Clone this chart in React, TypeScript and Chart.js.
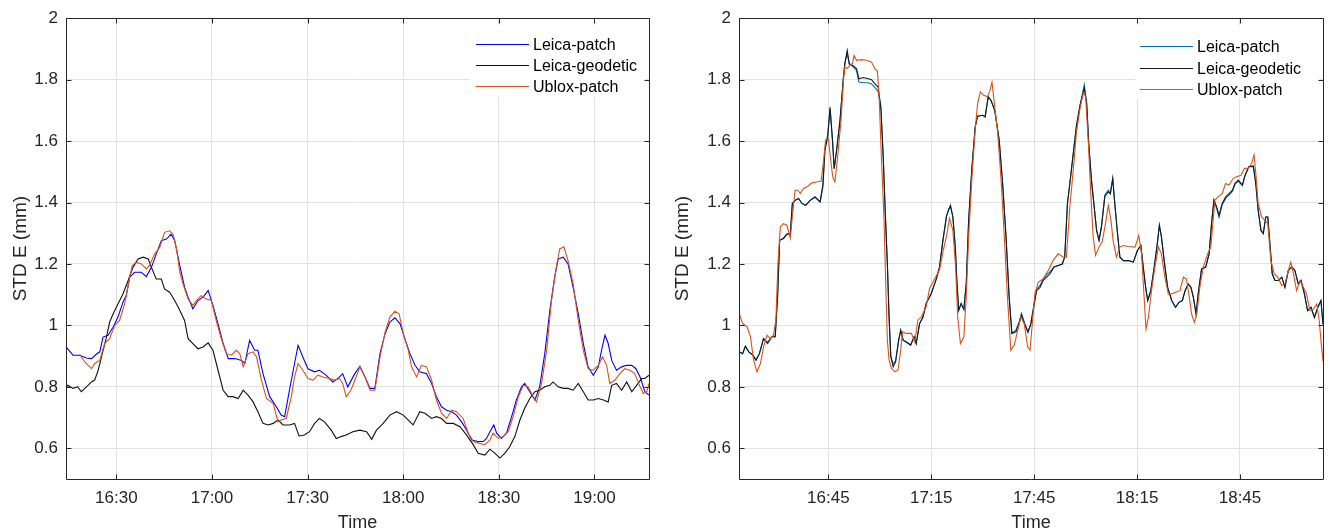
import React, { useEffect, useRef } from "react";
import { Chart, registerables } from "chart.js";

Chart.register(...registerables);

type Pt = [number, number];

// ---------- shared ----------
const SERIES_NAMES = ["Leica-patch", "Leica-geodetic", "Ublox-patch"];
const Y_TICKS = [0.6, 0.8, 1, 1.2, 1.4, 1.6, 1.8, 2];
const Y_TICK_LABELS = ["0.6", "0.8", "1", "1.2", "1.4", "1.6", "1.8", "2"];
const Y_MIN = 0.5;
const Y_MAX = 2;
const Y_TITLE = "STD E (mm)";
const X_TITLE = "Time";

// ---------- left panel (x = minutes after 16:00) ----------
const LEFT_X_TICKS = [30, 60, 90, 120, 150, 180];
const LEFT_X_LABELS = ["16:30", "17:00", "17:30", "18:00", "18:30", "19:00"];
const LEFT_X_MIN = 14.2;
const LEFT_X_MAX = 197.1;
const LEFT_COLORS = ["#0000ff", "#111111", "#d95319"];

const LEFT_LEICA_PATCH: Pt[] = [
  [14.2, 0.93], [16.4, 0.903], [18.5, 0.903], [20.6, 0.894], [22.2, 0.892], [23.7, 0.906], [24.8, 0.914],
  [25.8, 0.962], [27.4, 0.968], [29.0, 0.995], [30.5, 1.027], [32.1, 1.076], [33.1, 1.097], [34.2, 1.157],
  [35.7, 1.173], [37.8, 1.173], [39.4, 1.159], [41.0, 1.189], [42.5, 1.232], [44.1, 1.276], [45.7, 1.281],
  [47.2, 1.297], [48.3, 1.276], [49.9, 1.195], [51.4, 1.124], [52.5, 1.092], [54.0, 1.054], [55.6, 1.081],
  [57.2, 1.092], [58.8, 1.114], [60.3, 1.065], [61.9, 1.005], [63.5, 0.941], [65.1, 0.892], [67.2, 0.892],
  [69.3, 0.886], [70.3, 0.876], [71.8, 0.951], [73.4, 0.919], [74.4, 0.919], [76.0, 0.843], [78.1, 0.768],
  [80.2, 0.735], [81.7, 0.708], [82.8, 0.703], [84.3, 0.789], [85.9, 0.876], [87.0, 0.935], [88.5, 0.897],
  [90.1, 0.859], [92.2, 0.849], [93.7, 0.854], [95.8, 0.838], [97.9, 0.816], [99.5, 0.827], [101.0, 0.843],
  [102.6, 0.8], [104.8, 0.843], [106.4, 0.867], [108.0, 0.832], [109.6, 0.795], [111.1, 0.795], [112.7, 0.908],
  [114.3, 0.973], [115.8, 1.011], [117.4, 1.025], [119.0, 1.005], [120.5, 0.957], [122.1, 0.908], [123.7, 0.87],
  [125.2, 0.849], [127.3, 0.843], [128.9, 0.811], [130.4, 0.768], [132.0, 0.735], [133.6, 0.724], [135.2, 0.719],
  [136.7, 0.708], [138.3, 0.686], [139.9, 0.659], [141.5, 0.627], [143.5, 0.622], [145.1, 0.622], [146.1, 0.632],
  [147.2, 0.654], [148.4, 0.676], [149.3, 0.649], [150.8, 0.632], [152.4, 0.649], [154.0, 0.703], [155.5, 0.757],
  [157.1, 0.8], [158.1, 0.811], [159.7, 0.784], [161.3, 0.757], [162.8, 0.8], [164.4, 0.908], [166.0, 1.049],
  [167.5, 1.157], [168.6, 1.216], [170.2, 1.222], [171.7, 1.2], [173.3, 1.124], [174.9, 1.038], [176.5, 0.941],
  [178.0, 0.865], [179.6, 0.838], [181.2, 0.865], [182.2, 0.919], [183.3, 0.968], [184.3, 0.941], [185.4, 0.886],
  [186.9, 0.854], [188.5, 0.865], [190.1, 0.87], [191.7, 0.87], [193.0, 0.859], [194.3, 0.832], [195.8, 0.784],
  [197.1, 0.773],
];

const LEFT_LEICA_GEODETIC: Pt[] = [
  [14.2, 0.795], [14.8, 0.805], [16.4, 0.795], [17.9, 0.8], [19.0, 0.784], [20.6, 0.8], [22.2, 0.816],
  [23.2, 0.822], [24.3, 0.854], [25.3, 0.897], [26.9, 0.962], [27.9, 1.011], [29.0, 1.038], [30.5, 1.07],
  [32.1, 1.103], [33.7, 1.146], [35.2, 1.189], [36.8, 1.216], [38.4, 1.222], [40.0, 1.216], [41.0, 1.189],
  [42.5, 1.151], [44.1, 1.151], [45.1, 1.119], [46.7, 1.108], [48.3, 1.081], [49.9, 1.049], [51.4, 1.016],
  [52.5, 0.957], [54.0, 0.941], [55.6, 0.924], [57.2, 0.93], [58.8, 0.943], [60.3, 0.919], [61.9, 0.854],
  [63.5, 0.789], [65.1, 0.768], [66.6, 0.768], [68.2, 0.762], [69.8, 0.789], [71.3, 0.773], [72.9, 0.751],
  [74.4, 0.719], [76.0, 0.681], [77.6, 0.676], [79.2, 0.681], [80.7, 0.692], [82.3, 0.676], [84.3, 0.676],
  [85.9, 0.681], [87.3, 0.64], [89.0, 0.643], [90.6, 0.654], [92.2, 0.681], [93.7, 0.697], [95.3, 0.686],
  [97.4, 0.659], [99.0, 0.632], [100.5, 0.638], [102.1, 0.643], [104.2, 0.654], [106.4, 0.659], [108.5, 0.654],
  [110.1, 0.629], [111.6, 0.659], [113.7, 0.681], [115.8, 0.708], [117.9, 0.719], [120.0, 0.708], [121.6, 0.692],
  [123.1, 0.676], [125.2, 0.719], [126.8, 0.714], [128.9, 0.697], [130.4, 0.703], [132.0, 0.697], [133.6, 0.681],
  [135.7, 0.681], [137.8, 0.67], [139.9, 0.643], [142.0, 0.611], [143.5, 0.584], [145.6, 0.578], [147.2, 0.597],
  [148.7, 0.584], [150.3, 0.568], [151.9, 0.584], [153.4, 0.605], [155.0, 0.638], [156.6, 0.692], [158.1, 0.73],
  [159.7, 0.762], [161.3, 0.784], [162.8, 0.789], [164.4, 0.8], [166.0, 0.805], [167.0, 0.816], [168.6, 0.8],
  [170.2, 0.795], [171.7, 0.795], [173.3, 0.789], [174.9, 0.811], [176.5, 0.784], [178.0, 0.757], [179.6, 0.757],
  [181.2, 0.762], [182.8, 0.757], [184.3, 0.751], [185.4, 0.805], [186.9, 0.811], [188.5, 0.789], [190.1, 0.816],
  [191.7, 0.784], [193.2, 0.805], [194.8, 0.827], [195.8, 0.827], [197.1, 0.838],
];

const LEFT_UBLOX_PATCH: Pt[] = [
  [18.5, 0.906], [20.1, 0.881], [22.2, 0.859], [23.2, 0.876], [24.8, 0.886], [26.3, 0.941], [27.9, 0.957],
  [29.5, 1.0], [31.0, 1.016], [32.6, 1.07], [34.2, 1.157], [35.0, 1.195], [36.3, 1.205], [37.8, 1.2],
  [39.4, 1.184], [40.4, 1.195], [42.0, 1.232], [43.6, 1.254], [45.1, 1.303], [46.7, 1.308], [47.8, 1.297],
  [48.8, 1.254], [49.9, 1.173], [50.9, 1.135], [52.5, 1.086], [54.0, 1.065], [55.6, 1.086], [56.6, 1.097],
  [58.2, 1.086], [59.8, 1.081], [61.3, 1.016], [62.9, 0.957], [64.5, 0.908], [66.1, 0.903], [67.6, 0.919],
  [68.7, 0.908], [69.8, 0.865], [71.3, 0.908], [72.9, 0.914], [74.0, 0.897], [75.5, 0.822], [77.1, 0.762],
  [79.2, 0.746], [80.7, 0.686], [81.7, 0.692], [83.3, 0.697], [84.9, 0.768], [85.9, 0.832], [87.0, 0.876],
  [88.5, 0.854], [90.1, 0.827], [91.7, 0.822], [93.2, 0.838], [94.8, 0.832], [96.9, 0.827], [98.5, 0.822],
  [100.0, 0.827], [101.0, 0.811], [102.1, 0.768], [103.6, 0.789], [105.2, 0.832], [106.4, 0.865], [108.0, 0.832],
  [109.6, 0.789], [111.1, 0.789], [112.7, 0.897], [114.3, 0.978], [115.8, 1.027], [117.4, 1.046], [118.7, 1.038],
  [120.0, 0.973], [121.6, 0.919], [122.6, 0.865], [124.2, 0.832], [125.7, 0.87], [127.3, 0.865], [128.9, 0.822],
  [130.4, 0.757], [132.0, 0.714], [133.6, 0.697], [135.2, 0.724], [136.7, 0.719], [138.8, 0.697], [140.4, 0.649],
  [142.0, 0.622], [144.1, 0.616], [145.6, 0.611], [147.2, 0.627], [148.2, 0.649], [149.8, 0.632], [151.4, 0.638],
  [152.9, 0.654], [154.5, 0.703], [156.1, 0.768], [157.7, 0.805], [159.2, 0.8], [160.8, 0.768], [161.8, 0.751],
  [163.4, 0.811], [165.0, 0.919], [166.5, 1.081], [168.1, 1.195], [169.1, 1.249], [170.4, 1.256], [171.7, 1.211],
  [173.3, 1.135], [174.9, 1.016], [176.5, 0.919], [178.0, 0.859], [179.6, 0.854], [181.2, 0.87], [182.5, 0.897],
  [183.8, 0.87], [184.8, 0.811], [186.4, 0.822], [188.0, 0.843], [189.5, 0.859], [191.1, 0.854], [192.6, 0.843],
  [194.3, 0.8], [195.3, 0.778], [196.4, 0.784], [197.1, 0.811],
];

// ---------- right panel (x = minutes after 16:00) ----------
const RIGHT_X_TICKS = [45, 75, 105, 135, 165];
const RIGHT_X_LABELS = ["16:45", "17:15", "17:45", "18:15", "18:45"];
const RIGHT_X_MIN = 18.95;
const RIGHT_X_MAX = 189.2;
const RIGHT_COLORS = ["#0072bd", "#141820", "#d95319"];

const RIGHT_LEICA_PATCH: Pt[] = [
  [19.0, 0.914], [20.0, 0.908], [20.8, 0.932], [21.8, 0.914], [23.0, 0.903], [23.9, 0.887], [24.9, 0.908],
  [26.1, 0.957], [27.3, 0.945], [28.5, 0.963], [29.5, 0.963], [30.2, 1.093], [30.8, 1.277], [31.9, 1.283],
  [32.9, 1.297], [33.9, 1.297], [34.5, 1.397], [35.3, 1.407], [36.3, 1.413], [37.3, 1.397], [38.4, 1.391],
  [39.7, 1.407], [41.1, 1.418], [42.6, 1.402], [43.4, 1.46], [44.0, 1.575], [44.8, 1.62], [45.5, 1.712],
  [46.2, 1.603], [46.7, 1.51], [47.4, 1.57], [48.4, 1.668], [49.4, 1.809], [49.8, 1.852], [50.5, 1.885],
  [51.1, 1.85], [52.0, 1.845], [53.2, 1.83], [53.9, 1.792], [55.2, 1.79], [56.6, 1.79], [57.6, 1.786],
  [58.5, 1.775], [59.5, 1.762], [60.3, 1.711], [61.0, 1.548], [61.6, 1.364], [62.2, 1.201], [62.7, 1.028],
  [63.2, 0.9], [63.9, 0.875], [64.6, 0.885], [65.5, 0.952], [66.1, 0.984], [66.8, 0.952], [67.7, 0.946],
  [69.0, 0.936], [70.0, 0.963], [70.6, 0.941], [71.6, 1.006], [72.6, 1.028], [73.5, 1.071], [75.0, 1.104],
  [76.5, 1.152], [77.4, 1.19], [78.4, 1.277], [79.4, 1.353], [80.0, 1.375], [80.6, 1.392], [81.3, 1.353],
  [82.0, 1.256], [82.5, 1.136], [83.0, 1.049], [83.7, 1.071], [84.5, 1.052], [85.2, 1.136], [85.9, 1.342],
  [86.8, 1.505], [87.8, 1.646], [88.5, 1.681], [90.0, 1.684], [90.7, 1.679], [91.6, 1.744], [92.4, 1.733],
  [93.5, 1.7], [94.8, 1.603], [95.8, 1.462], [96.8, 1.288], [97.7, 1.093], [98.5, 0.974], [99.7, 0.985],
  [100.6, 1.012], [101.3, 1.04], [102.3, 1.005], [103.2, 0.98], [104.0, 1.004], [104.7, 1.052], [105.7, 1.118],
  [106.7, 1.13], [107.6, 1.15], [108.6, 1.165], [109.6, 1.175], [110.8, 1.19], [112.0, 1.195], [113.2, 1.2],
  [113.9, 1.222], [114.7, 1.397], [115.4, 1.462], [116.4, 1.56], [117.3, 1.647], [118.3, 1.713], [119.0, 1.75],
  [119.6, 1.784], [120.3, 1.724], [120.9, 1.593], [121.7, 1.473], [122.5, 1.386], [123.2, 1.309], [123.9, 1.277],
  [124.6, 1.32], [125.6, 1.425], [126.6, 1.44], [127.2, 1.429], [127.9, 1.478], [128.5, 1.397], [129.3, 1.299],
  [130.0, 1.222], [131.0, 1.211], [132.4, 1.211], [133.9, 1.206], [135.1, 1.244], [136.1, 1.26], [136.8, 1.19],
  [137.5, 1.124], [138.1, 1.081], [139.0, 1.113], [140.0, 1.19], [140.9, 1.266], [141.5, 1.326], [142.1, 1.288],
  [142.9, 1.211], [143.9, 1.124], [145.1, 1.081], [146.2, 1.059], [147.2, 1.075], [148.2, 1.081], [149.0, 1.113],
  [149.9, 1.135], [150.7, 1.124], [151.4, 1.092], [152.2, 1.037], [152.8, 1.102], [153.8, 1.184], [155.0, 1.19],
  [156.0, 1.233], [156.7, 1.331], [157.4, 1.408], [158.2, 1.38], [158.9, 1.352], [159.8, 1.392], [160.9, 1.414],
  [161.8, 1.424], [162.8, 1.436], [163.5, 1.458], [164.5, 1.47], [165.7, 1.455], [166.5, 1.489], [167.6, 1.517],
  [168.9, 1.52], [169.6, 1.462], [170.3, 1.375], [171.1, 1.31], [171.8, 1.299], [172.5, 1.353], [173.1, 1.353],
  [173.8, 1.255], [174.4, 1.168], [175.2, 1.146], [176.2, 1.146], [177.2, 1.157], [178.1, 1.124], [179.1, 1.179],
  [180.1, 1.19], [181.0, 1.179], [182.0, 1.135], [182.8, 1.146], [183.8, 1.102], [184.7, 1.048], [185.7, 1.059],
  [186.7, 1.026], [187.7, 1.059], [188.6, 1.081], [189.2, 1.004],
];

const RIGHT_LEICA_GEODETIC: Pt[] = [
  [19.0, 0.914], [20.0, 0.908], [20.8, 0.932], [21.8, 0.914], [23.0, 0.903], [23.9, 0.887], [24.9, 0.908],
  [26.1, 0.957], [27.3, 0.941], [28.5, 0.963], [29.5, 0.963], [30.2, 1.093], [30.8, 1.277], [31.9, 1.283],
  [32.9, 1.297], [33.9, 1.297], [34.5, 1.397], [35.3, 1.407], [36.3, 1.413], [37.3, 1.397], [38.4, 1.391],
  [39.7, 1.407], [41.1, 1.418], [42.6, 1.402], [43.4, 1.451], [44.0, 1.57], [44.8, 1.613], [45.5, 1.706],
  [46.2, 1.603], [46.7, 1.51], [47.4, 1.57], [48.4, 1.668], [49.4, 1.809], [49.8, 1.852], [50.5, 1.895],
  [51.1, 1.852], [52.0, 1.847], [53.2, 1.836], [53.9, 1.803], [55.2, 1.807], [56.6, 1.803], [57.6, 1.8],
  [58.5, 1.787], [59.5, 1.776], [60.3, 1.711], [61.0, 1.548], [61.6, 1.364], [62.2, 1.201], [62.7, 1.028],
  [63.2, 0.898], [63.9, 0.865], [64.6, 0.881], [65.5, 0.952], [66.1, 0.984], [66.8, 0.952], [67.7, 0.946],
  [69.0, 0.936], [70.0, 0.963], [70.6, 0.941], [71.6, 1.006], [72.6, 1.028], [73.5, 1.071], [75.0, 1.104],
  [76.5, 1.152], [77.4, 1.19], [78.4, 1.277], [79.4, 1.353], [80.0, 1.375], [80.6, 1.388], [81.3, 1.353],
  [82.0, 1.256], [82.5, 1.136], [83.0, 1.049], [83.7, 1.071], [84.5, 1.052], [85.2, 1.136], [85.9, 1.342],
  [86.8, 1.505], [87.8, 1.646], [88.5, 1.681], [90.0, 1.684], [90.7, 1.679], [91.6, 1.744], [92.4, 1.733],
  [93.5, 1.7], [94.8, 1.603], [95.8, 1.462], [96.8, 1.288], [97.7, 1.093], [98.5, 0.974], [99.7, 0.979],
  [100.6, 1.006], [101.3, 1.033], [102.3, 1.001], [103.2, 0.977], [104.0, 1.004], [104.7, 1.048], [105.7, 1.113],
  [106.7, 1.124], [107.6, 1.146], [108.6, 1.157], [109.6, 1.168], [110.8, 1.19], [112.0, 1.195], [113.2, 1.2],
  [113.9, 1.222], [114.7, 1.397], [115.4, 1.462], [116.4, 1.56], [117.3, 1.647], [118.3, 1.713], [119.0, 1.746],
  [119.6, 1.773], [120.3, 1.724], [120.9, 1.593], [121.7, 1.473], [122.5, 1.386], [123.2, 1.309], [123.9, 1.277],
  [124.6, 1.32], [125.6, 1.419], [126.6, 1.435], [127.2, 1.429], [127.9, 1.478], [128.5, 1.397], [129.3, 1.299],
  [130.0, 1.222], [131.0, 1.211], [132.4, 1.211], [133.9, 1.206], [135.1, 1.244], [136.1, 1.26], [136.8, 1.19],
  [137.5, 1.124], [138.1, 1.081], [139.0, 1.113], [140.0, 1.19], [140.9, 1.266], [141.5, 1.326], [142.1, 1.288],
  [142.9, 1.211], [143.9, 1.124], [145.1, 1.081], [146.2, 1.059], [147.2, 1.075], [148.2, 1.081], [149.0, 1.113],
  [149.9, 1.135], [150.7, 1.124], [151.4, 1.092], [152.2, 1.037], [152.8, 1.102], [153.8, 1.184], [155.0, 1.19],
  [156.0, 1.233], [156.7, 1.331], [157.4, 1.408], [158.2, 1.386], [158.9, 1.359], [159.8, 1.397], [160.9, 1.419],
  [161.8, 1.429], [162.8, 1.44], [163.5, 1.462], [164.5, 1.473], [165.7, 1.457], [166.5, 1.489], [167.6, 1.517],
  [168.9, 1.517], [169.6, 1.462], [170.3, 1.375], [171.1, 1.31], [171.8, 1.299], [172.5, 1.353], [173.1, 1.353],
  [173.8, 1.255], [174.4, 1.168], [175.2, 1.146], [176.2, 1.146], [177.2, 1.157], [178.1, 1.124], [179.1, 1.179],
  [180.1, 1.19], [181.0, 1.179], [182.0, 1.135], [182.8, 1.146], [183.8, 1.102], [184.7, 1.048], [185.7, 1.059],
  [186.7, 1.026], [187.7, 1.059], [188.6, 1.081], [189.2, 1.004],
];

const RIGHT_UBLOX_PATCH: Pt[] = [
  [19.0, 1.039], [20.0, 1.006], [21.3, 0.995], [22.3, 0.963], [23.2, 0.887], [24.2, 0.849], [25.2, 0.876],
  [26.1, 0.93], [27.1, 0.968], [28.1, 0.957], [29.0, 0.968], [29.7, 1.017], [30.3, 1.201], [31.0, 1.321],
  [31.9, 1.331], [32.9, 1.326], [33.9, 1.283], [34.5, 1.353], [35.3, 1.44], [36.1, 1.44], [36.8, 1.429],
  [37.7, 1.445], [39.0, 1.453], [40.2, 1.464], [41.6, 1.467], [42.9, 1.47], [43.5, 1.527], [44.2, 1.603],
  [45.0, 1.608], [45.8, 1.527], [46.3, 1.483], [46.9, 1.467], [47.7, 1.548], [48.7, 1.668], [49.4, 1.798],
  [49.8, 1.841], [50.5, 1.836], [51.3, 1.847], [52.0, 1.852], [52.5, 1.879], [53.2, 1.863], [54.7, 1.865],
  [56.1, 1.863], [57.6, 1.857], [58.5, 1.836], [59.3, 1.828], [59.8, 1.744], [60.5, 1.538], [61.2, 1.353],
  [61.7, 1.147], [62.2, 0.952], [62.7, 0.887], [63.4, 0.86], [64.4, 0.849], [65.3, 0.854], [66.1, 0.92],
  [66.6, 0.979], [67.7, 0.974], [69.2, 0.974], [70.2, 0.946], [71.1, 1.017], [72.1, 1.028], [73.5, 1.06],
  [74.5, 1.12], [76.0, 1.152], [77.4, 1.18], [78.4, 1.239], [79.4, 1.288], [80.3, 1.348], [81.3, 1.31],
  [82.1, 1.19], [82.7, 1.028], [83.5, 0.941], [84.5, 0.963], [85.2, 1.093], [85.9, 1.288], [86.8, 1.472],
  [87.8, 1.635], [88.5, 1.722], [89.3, 1.76], [90.3, 1.749], [91.4, 1.744], [92.1, 1.765], [92.7, 1.792],
  [93.4, 1.722], [94.3, 1.635], [95.3, 1.483], [96.3, 1.288], [97.2, 1.093], [98.2, 0.919], [99.2, 0.936],
  [100.2, 0.984], [101.1, 1.028], [102.1, 1.006], [103.1, 0.93], [103.8, 0.919], [104.7, 1.039], [105.2, 1.102],
  [106.2, 1.141], [107.6, 1.151], [109.1, 1.179], [110.5, 1.211], [112.0, 1.233], [113.5, 1.222], [114.4, 1.222],
  [115.4, 1.386], [116.4, 1.506], [117.3, 1.626], [118.3, 1.702], [119.3, 1.756], [120.0, 1.746], [120.8, 1.593],
  [121.5, 1.429], [122.2, 1.288], [122.9, 1.228], [123.9, 1.255], [124.8, 1.271], [125.8, 1.331], [126.6, 1.391],
  [127.4, 1.342], [128.0, 1.277], [129.0, 1.222], [130.0, 1.255], [131.0, 1.26], [132.4, 1.257], [134.4, 1.255],
  [135.5, 1.293], [136.3, 1.233], [137.0, 1.102], [137.6, 0.988], [138.3, 1.026], [139.2, 1.113], [140.2, 1.19],
  [141.2, 1.255], [142.1, 1.233], [143.1, 1.157], [144.1, 1.102], [145.1, 1.102], [146.2, 1.108], [147.5, 1.113],
  [148.5, 1.157], [149.4, 1.151], [150.1, 1.102], [150.9, 1.037], [151.7, 1.01], [152.4, 1.037], [153.3, 1.124],
  [154.3, 1.19], [155.6, 1.233], [156.5, 1.255], [157.7, 1.408], [158.7, 1.419], [159.8, 1.429], [160.8, 1.462],
  [161.8, 1.457], [163.0, 1.478], [164.0, 1.484], [165.3, 1.489], [166.3, 1.511], [167.4, 1.511], [168.4, 1.527],
  [169.1, 1.555], [169.7, 1.484], [170.3, 1.397], [171.3, 1.353], [172.3, 1.342], [173.1, 1.331], [174.0, 1.211],
  [175.0, 1.168], [176.0, 1.157], [177.2, 1.13], [178.1, 1.135], [179.1, 1.179], [179.8, 1.206], [180.6, 1.168],
  [181.5, 1.113], [182.5, 1.146], [183.5, 1.124], [184.4, 1.102], [185.4, 1.048], [186.4, 1.053], [187.4, 1.07],
  [188.1, 1.015], [188.7, 0.939], [189.2, 0.884],
];

// ---------- drawing helpers ----------
const FONT_FAMILY = '"Liberation Sans", Arial, Helvetica, sans-serif';
const AXIS_COLOR = "#262626";
const GRID_COLOR = "#e2e2e2";

interface LegendGeom {
  boxX1: number; boxX2: number; boxY1: number; boxY2: number;
  lineX1: number; lineX2: number; textX: number; rows: number[];
}

interface PanelSpec {
  series: Pt[][];
  colors: string[];
  xMin: number; xMax: number;
  xTicks: number[]; xLabels: string[];
  yAxisWidth: number;
  padRight: number;
  yTitlePad: number;
  legend: LegendGeom; // offsets relative to chartArea right / top
}

const framePlugin = {
  id: "matlabFrame",
  afterDraw(chart: any) {
    const { ctx, chartArea } = chart;
    const { left, right, top, bottom } = chartArea;
    const xs = chart.scales.x;
    const ys = chart.scales.y;
    ctx.save();
    ctx.strokeStyle = AXIS_COLOR;
    ctx.lineWidth = 1;
    const L = Math.round(left) + 0.5, R = Math.round(right) + 0.5;
    const T = Math.round(top) + 0.5, B = Math.round(bottom) + 0.5;
    ctx.beginPath();
    ctx.rect(L, T, R - L, B - T);
    ctx.stroke();
    const len = 5;
    ctx.beginPath();
    xs.ticks.forEach((t: any) => {
      const px = Math.round(xs.getPixelForValue(t.value)) + 0.5;
      ctx.moveTo(px, B); ctx.lineTo(px, B - len);
      ctx.moveTo(px, T); ctx.lineTo(px, T + len);
    });
    ys.ticks.forEach((t: any) => {
      const py = Math.round(ys.getPixelForValue(t.value)) + 0.5;
      ctx.moveTo(L, py); ctx.lineTo(L + len, py);
      ctx.moveTo(R, py); ctx.lineTo(R - len, py);
    });
    ctx.stroke();
    ctx.restore();
  },
};

function makeLegendPlugin(geom: LegendGeom, colors: string[]) {
  return {
    id: "matlabLegend",
    afterDatasetsDraw(chart: any) {
      const { ctx, chartArea } = chart;
      const R = chartArea.right;
      const T = chartArea.top;
      ctx.save();
      ctx.fillStyle = "#ffffff";
      ctx.fillRect(R - geom.boxX1, T + geom.boxY1, geom.boxX1 - geom.boxX2, geom.boxY2 - geom.boxY1);
      ctx.font = `16px ${FONT_FAMILY}`;
      ctx.textBaseline = "middle";
      ctx.textAlign = "left";
      SERIES_NAMES.forEach((name, i) => {
        const y = Math.round(T + geom.rows[i]) + 0.5;
        ctx.strokeStyle = colors[i];
        ctx.lineWidth = 1;
        ctx.beginPath();
        ctx.moveTo(R - geom.lineX1, y);
        ctx.lineTo(R - geom.lineX2, y);
        ctx.stroke();
        ctx.fillStyle = "#000000";
        ctx.fillText(name, R - geom.textX, y + 1);
      });
      ctx.restore();
    },
  };
}

function buildConfig(spec: PanelSpec): any {
  const order = [3, 2, 1];
  return {
    type: "line",
    data: {
      datasets: spec.series.map((s, i) => ({
        label: SERIES_NAMES[i],
        data: s.map(([x, y]) => ({ x, y })),
        borderColor: spec.colors[i],
        backgroundColor: spec.colors[i],
        borderWidth: 1.1,
        pointRadius: 0,
        tension: 0,
        fill: false,
        order: order[i],
      })),
    },
    options: {
      animation: false,
      responsive: false,
      maintainAspectRatio: false,
      events: [],
      layout: { padding: { left: 0, top: 18, right: spec.padRight, bottom: 0 } },
      plugins: { legend: { display: false }, tooltip: { enabled: false } },
      scales: {
        x: {
          type: "linear",
          min: spec.xMin,
          max: spec.xMax,
          afterBuildTicks: (scale: any) => {
            scale.ticks = spec.xTicks.map((v) => ({ value: v }));
          },
          afterFit: (scale: any) => {
            scale.height = 53;
          },
          grid: { color: GRID_COLOR, lineWidth: 1, drawTicks: false },
          border: { display: false },
          ticks: {
            autoSkip: false,
            maxRotation: 0,
            padding: 9,
            color: AXIS_COLOR,
            font: { size: 17, family: FONT_FAMILY },
            callback: (_v: any, i: number) => spec.xLabels[i],
          },
          title: {
            display: true,
            text: X_TITLE,
            color: AXIS_COLOR,
            font: { size: 18, family: FONT_FAMILY, lineHeight: 1 },
            padding: { top: 0, bottom: 0 },
          },
        },
        y: {
          type: "linear",
          min: Y_MIN,
          max: Y_MAX,
          afterBuildTicks: (scale: any) => {
            scale.ticks = Y_TICKS.map((v) => ({ value: v }));
          },
          afterFit: (scale: any) => {
            scale.width = spec.yAxisWidth;
          },
          grid: { color: GRID_COLOR, lineWidth: 1, drawTicks: false },
          border: { display: false },
          ticks: {
            padding: 8,
            color: AXIS_COLOR,
            font: { size: 17, family: FONT_FAMILY },
            callback: (_v: any, i: number) => Y_TICK_LABELS[i],
          },
          title: {
            display: true,
            text: Y_TITLE,
            color: AXIS_COLOR,
            font: { size: 19, family: FONT_FAMILY, lineHeight: 1.2 },
            padding: { top: spec.yTitlePad, bottom: 0 },
          },
        },
      },
    },
    plugins: [framePlugin, makeLegendPlugin(spec.legend, spec.colors)],
  };
}

const LEFT_SPEC: PanelSpec = {
  series: [LEFT_LEICA_PATCH, LEFT_LEICA_GEODETIC, LEFT_UBLOX_PATCH],
  colors: LEFT_COLORS,
  xMin: LEFT_X_MIN, xMax: LEFT_X_MAX,
  xTicks: LEFT_X_TICKS, xLabels: LEFT_X_LABELS,
  yAxisWidth: 66,
  padRight: 11,
  yTitlePad: 9,
  legend: { boxX1: 179, boxX2: 4, boxY1: 7, boxY2: 79, lineX1: 173, lineX2: 120, textX: 116, rows: [26, 46.5, 67.5] },
};

const RIGHT_SPEC: PanelSpec = {
  series: [RIGHT_LEICA_PATCH, RIGHT_LEICA_GEODETIC, RIGHT_UBLOX_PATCH],
  colors: RIGHT_COLORS,
  xMin: RIGHT_X_MIN, xMax: RIGHT_X_MAX,
  xTicks: RIGHT_X_TICKS, xLabels: RIGHT_X_LABELS,
  yAxisWidth: 79,
  padRight: 10,
  yTitlePad: 11,
  legend: { boxX1: 188, boxX2: 4, boxY1: 7, boxY2: 80, lineX1: 183, lineX2: 130, textX: 126, rows: [27.7, 49.7, 71] },
};

function Panel({ spec, left, width }: { spec: PanelSpec; left: number; width: number }) {
  const ref = useRef<HTMLCanvasElement | null>(null);
  useEffect(() => {
    if (!ref.current) return;
    const chart = new Chart(ref.current, buildConfig(spec));
    return () => chart.destroy();
  }, [spec]);
  return (
    <canvas
      ref={ref}
      width={width}
      height={532}
      style={{ position: "absolute", left, top: 0, width, height: 532, display: "block" }}
    />
  );
}

export default function App() {
  return (
    <div style={{ position: "absolute", left: 0, top: 0, width: 1333, height: 532, background: "#ffffff", overflow: "hidden" }}>
      <Panel spec={LEFT_SPEC} left={0} width={660} />
      <Panel spec={RIGHT_SPEC} left={660} width={673} />
    </div>
  );
}
